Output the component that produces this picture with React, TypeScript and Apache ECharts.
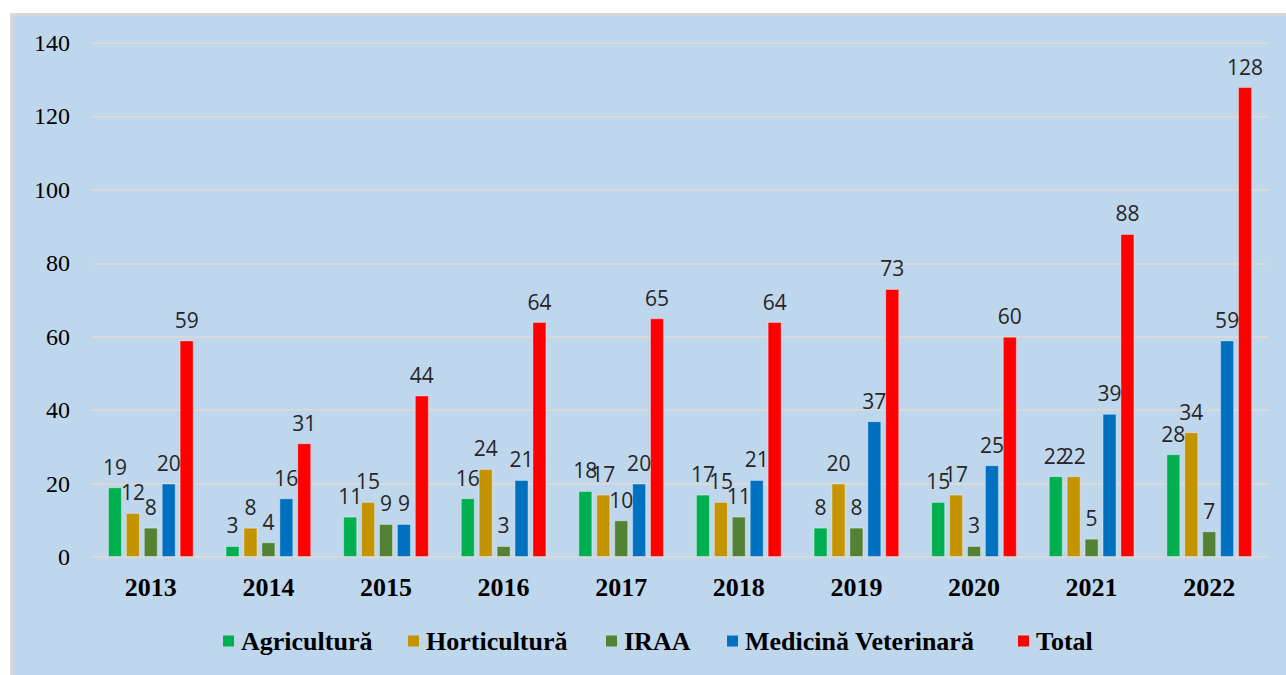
import React, { useEffect, useRef } from "react";
import * as echarts from "echarts";

const categories = ["2013", "2014", "2015", "2016", "2017", "2018", "2019", "2020", "2021", "2022"];
const seriesNames = ["Agricultură", "Horticultură", "IRAA", "Medicină Veterinară", "Total"];
const agricultura = [19, 3, 11, 16, 18, 17, 8, 15, 22, 28];
const horticultura = [12, 8, 15, 24, 17, 15, 20, 17, 22, 34];
const iraa = [8, 4, 9, 3, 10, 11, 8, 3, 5, 7];
const medicina = [20, 16, 9, 21, 20, 21, 37, 25, 39, 59];
const total = [59, 31, 44, 64, 65, 64, 73, 60, 88, 128];
const colors = ["#00B050", "#C49400", "#548235", "#0070C0", "#FF0000"];
const yTicks = { min: 0, max: 140, interval: 20 };

const SERIF = "Liberation Serif";

export default function App() {
  const ref = useRef<HTMLDivElement>(null);
  useEffect(() => {
    if (!ref.current) return;
    const chart = echarts.init(ref.current, undefined, { renderer: "svg" });
    const data = [agricultura, horticultura, iraa, medicina, total];

    // Manual legend (serif bold), laid out like the reference
    const legendY = 641;
    const iconSize = 11;
    const iconTextGap = 7;
    const legendIconX = [223, 408, 606, 727, 1018];
    const legendChildren: any[] = [];
    seriesNames.forEach((name, i) => {
      const x = legendIconX[i];
      legendChildren.push({
        type: "rect",
        shape: { x, y: legendY - iconSize / 2, width: iconSize, height: iconSize },
        style: { fill: colors[i] },
      });
      legendChildren.push({
        type: "text",
        x: x + iconSize + iconTextGap,
        y: legendY,
        style: {
          text: name,
          fontFamily: SERIF,
          fontWeight: "bold",
          fontSize: 26,
          fill: "#000",
          verticalAlign: "middle",
          align: "left",
        },
      });
    });

    chart.setOption({
      animation: false,
      textStyle: { fontFamily: SERIF },
      grid: { left: 92, right: 18, top: 43, bottom: 118, containLabel: false },
      legend: { show: false, data: seriesNames },
      graphic: legendChildren,
      xAxis: {
        type: "category",
        data: categories,
        axisLine: { show: false },
        axisTick: { show: false },
        axisLabel: {
          margin: 17,
          fontFamily: SERIF,
          fontWeight: "bold",
          fontSize: 26,
          color: "#000",
        },
      },
      yAxis: {
        type: "value",
        min: yTicks.min,
        max: yTicks.max,
        interval: yTicks.interval,
        axisLine: { show: false },
        axisTick: { show: false },
        axisLabel: {
          margin: 22,
          fontFamily: SERIF,
          fontSize: 24,
          color: "#000",
        },
        splitLine: { lineStyle: { color: "#D9D9D9", width: 2 } },
      },
      series: seriesNames.map((name, i) => ({
        name,
        type: "bar",
        data: data[i],
        barWidth: 14,
        barGap: "28%",
        itemStyle: { color: colors[i], borderColor: "rgba(255,255,255,0.35)", borderWidth: 1 },
        label: {
          show: true,
          position: "top",
          distance: 10,
          fontFamily: "Open Sans",
          fontSize: 21,
          color: "#262626",
        },
      })),
    });
    return () => chart.dispose();
  }, []);
  return (
    <div style={{ position: "fixed", left: 0, top: 0, width: 1286, height: 675, background: "#fff" }}>
      <div
        style={{
          position: "absolute",
          left: 10,
          top: 13,
          width: 1276,
          height: 662,
          background: "#BFD7ED",
          borderLeft: "3px solid #D9D9D9",
          borderTop: "3px solid #D9D9D9",
          boxSizing: "border-box",
        }}
      />
      <div ref={ref} style={{ position: "absolute", left: 0, top: 0, width: 1286, height: 675 }} />
    </div>
  );
}
